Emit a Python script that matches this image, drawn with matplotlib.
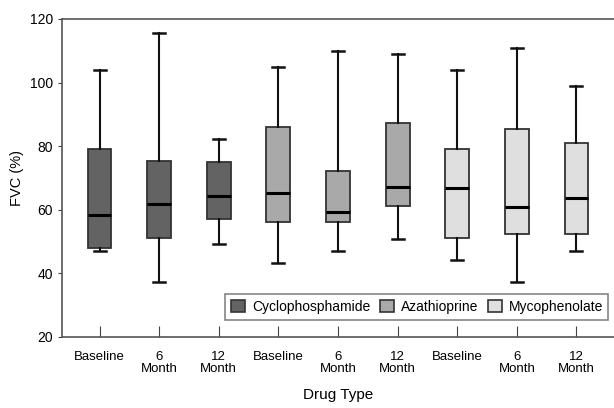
"""
Box plot of FVC (%) by drug type and time point.
"""

import matplotlib
matplotlib.use('Agg')
import matplotlib.pyplot as plt
from matplotlib.patches import Patch

plt.rcParams['font.family'] = ['Liberation Sans', 'DejaVu Sans']

labels = ['Baseline', '6\nMonth', '12\nMonth',
          'Baseline', '6\nMonth', '12\nMonth',
          'Baseline', '6\nMonth', '12\nMonth']
drugs = ['Cyclophosphamide', 'Azathioprine', 'Mycophenolate']
drug_colors = ['#636363', '#a9a9a9', '#dfdfdf']

whislo = [47.1, 37.3, 49.2, 43.2, 47.1, 50.9, 44.1, 37.3, 47.1]
q1 = [48.0, 51.0, 57.1, 56.2, 56.2, 61.2, 51.2, 52.4, 52.4]
med = [58.4, 61.7, 64.3, 65.4, 59.2, 67.1, 66.8, 61.0, 63.8]
q3 = [79.0, 75.2, 75.0, 86.1, 72.2, 87.2, 79.1, 85.3, 81.1]
whishi = [104.0, 115.7, 82.2, 104.8, 109.9, 109.0, 104.0, 111.0, 98.9]

stats = []
for i in range(len(labels)):
    stats.append({'whislo': whislo[i], 'q1': q1[i], 'med': med[i],
                  'q3': q3[i], 'whishi': whishi[i], 'fliers': []})

fig = plt.figure(figsize=(6.14, 4.08), dpi=100)
ax = fig.add_axes([62/614, 71/408, 552/614, 318/408])

positions = list(range(1, len(labels) + 1))
bp = ax.bxp(stats, positions=positions, widths=0.4, patch_artist=True,
            showfliers=False, capwidths=0.2,
            boxprops=dict(edgecolor='#333333', linewidth=1.3),
            whiskerprops=dict(color='#111111', linewidth=1.5),
            capprops=dict(color='#111111', linewidth=1.8),
            medianprops=dict(color='black', linewidth=2.2))
for i, box in enumerate(bp['boxes']):
    box.set_facecolor(drug_colors[i // 3])

ax.set_xlim(0.37, 9.63)
ax.set_ylim(20, 120)
ax.set_yticks([20, 40, 60, 80, 100, 120])
ax.set_xticks(positions)
ax.set_xticklabels(labels, fontsize=9.5, linespacing=1.05)
ax.tick_params(axis='x', direction='in', length=8, color='#444444', pad=10)
ax.tick_params(axis='y', direction='out', length=3, color='#444444', labelsize=10)

for side in ['left', 'bottom', 'top']:
    ax.spines[side].set_color('#555555')
    ax.spines[side].set_linewidth(1.2)
ax.spines['right'].set_visible(False)

ax.set_ylabel('FVC (%)', fontsize=10.5, labelpad=4)
ax.set_xlabel('Drug Type', fontsize=11, labelpad=9)

handles = [Patch(facecolor=c, edgecolor='#333333', linewidth=1.2) for c in drug_colors]
leg = ax.legend(handles, drugs, ncol=3, loc='lower right', bbox_to_anchor=(0.99, 0.055),
                fontsize=10, frameon=True, fancybox=False, handlelength=1.0,
                handleheight=1.0, handletextpad=0.5, columnspacing=0.7,
                borderpad=0.4, borderaxespad=0)
leg.get_frame().set_edgecolor('#666666')
leg.get_frame().set_linewidth(1.2)

plt.savefig('out.png', dpi=100)
